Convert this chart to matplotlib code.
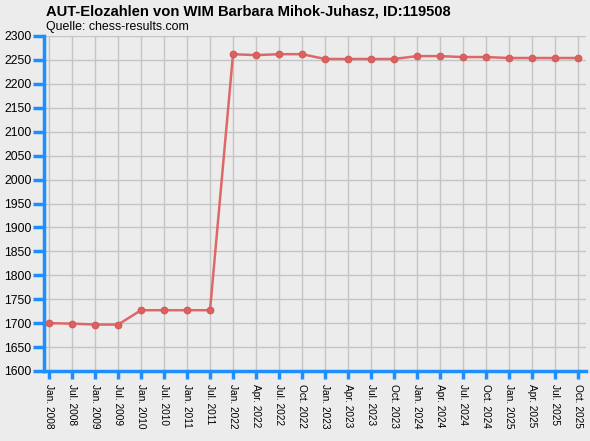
#!/usr/bin/env python3
"""AUT Elo history chart for WIM Barbara Mihok-Juhasz."""

import matplotlib
matplotlib.use("Agg")
import matplotlib.pyplot as plt
import numpy as np

labels = ["Jan. 2008", "Jul. 2008", "Jan. 2009", "Jul. 2009", "Jan. 2010", "Jul. 2010",
          "Jan. 2011", "Jul. 2011", "Jan. 2022", "Apr. 2022", "Jul. 2022", "Oct. 2022",
          "Jan. 2023", "Apr. 2023", "Jul. 2023", "Oct. 2023", "Jan. 2024", "Apr. 2024",
          "Jul. 2024", "Oct. 2024", "Jan. 2025", "Apr. 2025", "Jul. 2025", "Oct. 2025"]
elo = [1700, 1699, 1697, 1697, 1727, 1727, 1727, 1727, 2262, 2260, 2262, 2262,
       2252, 2252, 2252, 2252, 2258, 2258, 2256, 2256, 2254, 2254, 2254, 2254]
yticks = list(range(1600, 2301, 50))

plt.rcParams['font.family'] = ['Liberation Sans', 'DejaVu Sans']
bg = '#ececec'
blue = '#1e8fff'

fig = plt.figure(figsize=(5.9, 4.41), dpi=100, facecolor=bg)
ax = fig.add_axes([44 / 590, 70 / 441, 542 / 590, 335 / 441])
ax.set_facecolor(bg)

x = np.arange(len(labels))
ax.plot(x, elo, color='#de6868', lw=1.8, marker='o', markersize=4.6,
        markerfacecolor='#dc6262', markeredgecolor='#d65c5c', zorder=3)

ax.set_xlim(-0.22, 23.35)
ax.set_ylim(1600, 2300)
ax.set_yticks(yticks)
ax.set_xticks(x)
ax.set_xticklabels(labels, rotation=270, fontsize=7.3)
ax.tick_params(axis='y', labelsize=8.8, length=8, width=2.5, color=blue, pad=1)
ax.tick_params(axis='x', length=6, width=2.5, color=blue, pad=3)
ax.grid(True, color='#c4c4c4', lw=1)
ax.set_axisbelow(True)

for side in ['top', 'right']:
    ax.spines[side].set_visible(False)
for side in ['left', 'bottom']:
    ax.spines[side].set_color(blue)
    ax.spines[side].set_linewidth(2.5)

fig.text(46 / 590, 1 - 11 / 441, "AUT-Elozahlen von WIM Barbara Mihok-Juhasz, ID:119508",
         fontsize=10.6, fontweight='bold', va='center', ha='left')
fig.text(46 / 590, 1 - 27 / 441, "Quelle: chess-results.com",
         fontsize=8.9, va='center', ha='left')

fig.savefig("out.png", dpi=100, facecolor=bg)
